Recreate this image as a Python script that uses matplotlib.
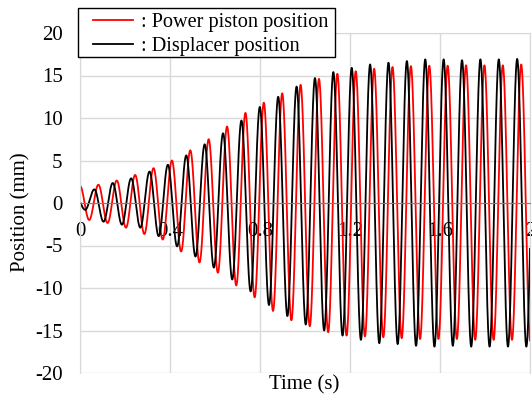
import numpy as np
import matplotlib
matplotlib.use("Agg")
import matplotlib.pyplot as plt
from matplotlib.patches import Rectangle

plt.rcParams['font.family'] = ['Liberation Serif', 'DejaVu Serif']
plt.rcParams['axes.unicode_minus'] = False

# 振荡周期 (s)，从图上量出
period = 0.0817
half = period / 2

# 位移活塞 (黑): 第一个谷值时间，之后谷/峰交替
disp_t0 = 0.023
disp_troughs = [-0.8, -2.2, -2.55, -2.9, -3.9, -5.1, -6.3, -7.6, -9.0, -10.4, -12.0, -13.3,
                -14.3, -15.0, -15.6, -16.1, -16.5, -16.6, -16.8, -16.9, -16.8, -16.9, -16.9,
                -16.9, -16.9]
disp_peaks = [1.6, 2.35, 2.9, 3.7, 4.5, 5.6, 6.9, 8.2, 9.7, 11.3, 12.5, 13.7, 14.7, 15.4,
              15.9, 16.3, 16.5, 16.7, 16.9, 16.9, 16.8, 16.9, 16.9, 16.95]

# 动力活塞 (红): t=0 时为峰值，之后谷/峰交替
power_t0 = 0.0
power_start = 2.0
power_troughs = [-2.0, -2.35, -2.9, -3.65, -4.3, -5.7, -7.0, -8.2, -9.7, -11.1, -12.7, -13.8,
                 -14.5, -15.2, -15.6, -15.7, -15.8, -15.9, -16.0, -16.0, -16.0, -16.1, -16.1,
                 -16.1]
power_peaks = [2.15, 2.65, 3.3, 4.1, 5.0, 6.2, 7.5, 9.0, 10.6, 11.8, 12.9, 13.9, 14.6, 15.2,
               15.5, 15.8, 16.0, 16.1, 16.15, 16.15, 16.2, 16.2, 16.2, 16.3]

xticks = [0, 0.4, 0.8, 1.2, 1.6, 2]
xticklabels = ['0', '0.4', '0.8', '1.2', '1.6', '2']
yticks = [-20, -15, -10, -5, 0, 5, 10, 15, 20]


def interleave(first, second):
    out = []
    for i in range(max(len(first), len(second))):
        if i < len(first):
            out.append(first[i])
        if i < len(second):
            out.append(second[i])
    return np.array(out)


def wave(t, t0, vals):
    # 相邻极值之间用半个余弦连接
    times = t0 + half * np.arange(-1, len(vals) + 1)
    v = np.r_[-vals[0], vals, -vals[-1]]
    k = np.clip(np.searchsorted(times, t, side='right') - 1, 0, len(times) - 2)
    frac = (t - times[k]) / half
    return (v[k] + v[k + 1]) / 2 + (v[k] - v[k + 1]) / 2 * np.cos(np.pi * frac)


t = np.linspace(0, 2, 6001)
disp = wave(t, disp_t0, interleave(disp_troughs, disp_peaks))
power = wave(t, power_t0, np.r_[power_start, interleave(power_troughs, power_peaks)])

W, H = 532, 398
fig = plt.figure(figsize=(W / 100, H / 100), dpi=100)
ax = fig.add_axes([80 / W, 1 - 373 / H, 450 / W, 340 / H])

ax.plot(t, power, color='#ff0000', lw=1.3, label=': Power piston position')
ax.plot(t, disp, color='black', lw=1.3, label=': Displacer position')

ax.set_xlim(0, 2)
ax.set_ylim(-20, 20)
ax.set_xticks(xticks)
ax.set_xticklabels(xticklabels)
ax.set_yticks(yticks)
ax.grid(True, color='#d9d9d9', lw=1)
ax.set_axisbelow(True)

for s in ['top', 'left', 'right']:
    ax.spines[s].set_color('#d9d9d9')
ax.spines['bottom'].set_position(('data', 0))
ax.spines['bottom'].set_color('#808080')
ax.tick_params(axis='both', length=0, labelsize=15)
ax.tick_params(axis='x', pad=13.5)
ax.tick_params(axis='y', pad=12.5)

ax.set_ylabel('Position (mm)', fontsize=15)
ax.yaxis.set_label_coords(-0.11, 0.472)
fig.text(304 / W, 1 - 385 / H, 'Time (s)', ha='center', va='center', fontsize=15)

# 图例框
box = Rectangle((78 / W, 1 - 57 / H), 257 / W, 49 / H, transform=fig.transFigure,
                facecolor='white', edgecolor='black', lw=1.0, zorder=3)
fig.patches.append(box)
leg = fig.legend(loc='upper left', bbox_to_anchor=(93 / W, 1 - 13 / H), fontsize=14.6,
                 frameon=False, handlelength=1.95, handletextpad=0.4, labelspacing=0.25,
                 borderpad=0, borderaxespad=0)
leg.set_zorder(4)

fig.savefig('out.png', dpi=100)
